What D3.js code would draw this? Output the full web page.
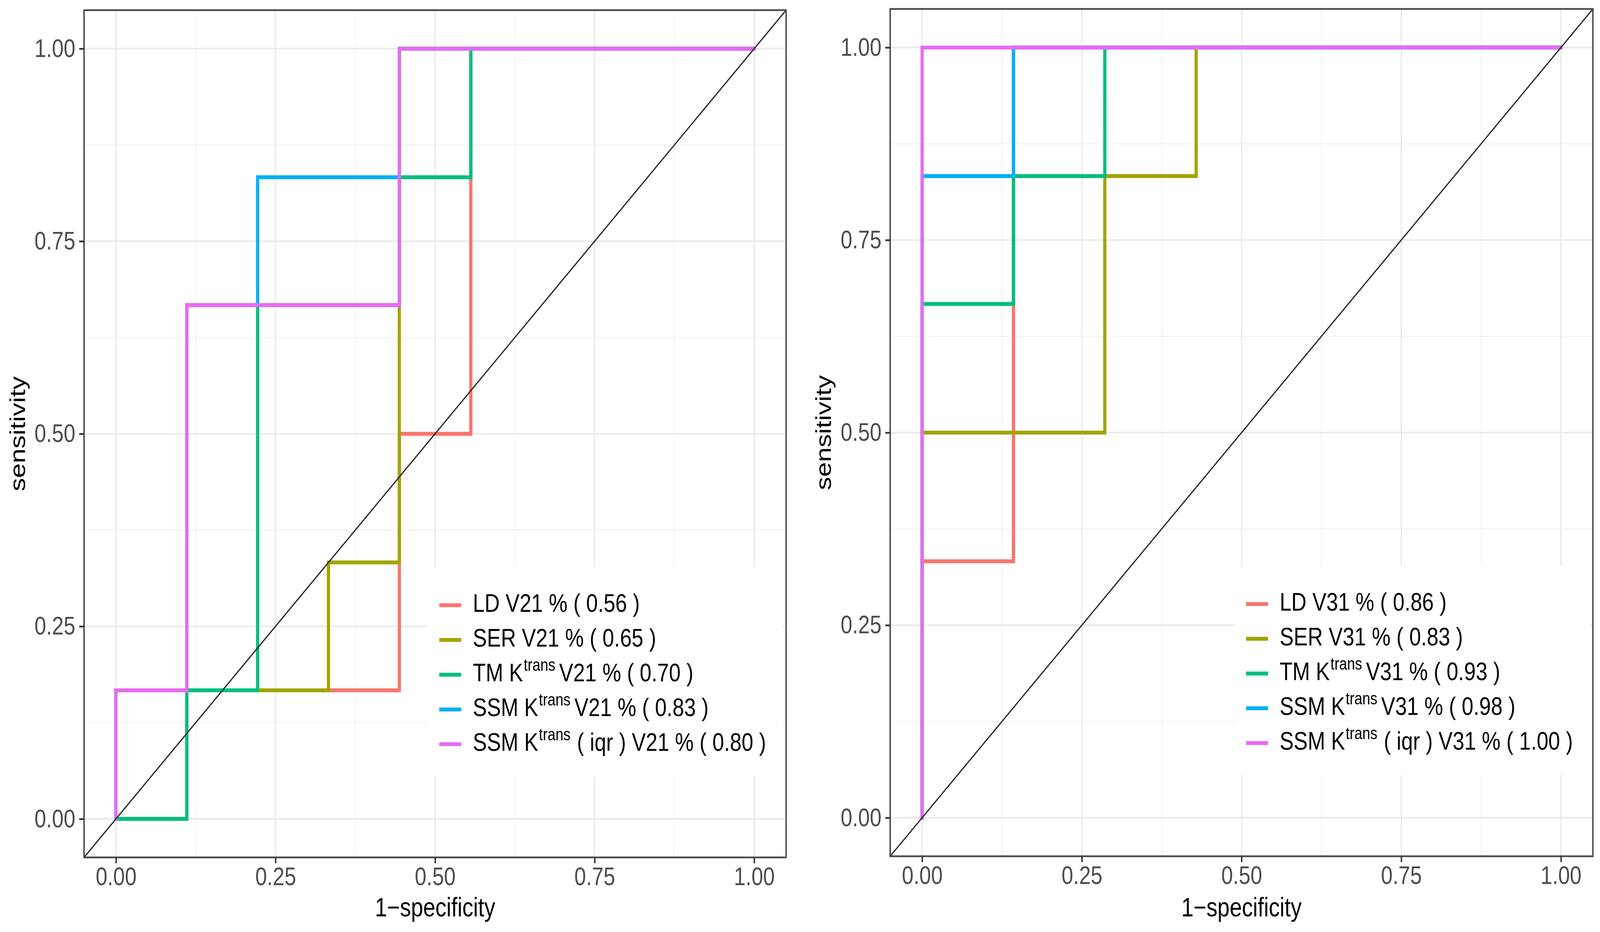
<!DOCTYPE html>
<html>
<head>
<meta charset="utf-8">
<script src="https://cdn.jsdelivr.net/npm/d3@7/dist/d3.min.js"></script>
<style>
html,body{margin:0;padding:0;background:#fff;overflow:hidden;width:100%;height:100%;}
svg{display:block;width:100vw;height:100vh;}
text{font-family:"Liberation Sans",Arial,Helvetica,sans-serif;}
</style>
</head>
<body>
<script>
// ---------------- DATA ----------------
const seriesNames = ["LD", "SER", "TM", "SSM", "SSM"];
const seriesHasK = [false, false, true, true, true];
const seriesHasIqr = [false, false, false, false, true];
const seriesColors = ["#F8766D", "#A3A500", "#00BF7D", "#00B0F6", "#E76BF3"];

const tickValues = [0, 0.25, 0.5, 0.75, 1];
const tickLabels = ["0.00", "0.25", "0.50", "0.75", "1.00"];
const minorTicks = [0.125, 0.375, 0.625, 0.875];

// Left panel (V21)
const leftVar = "V21";
const leftAUC = ["0.56", "0.65", "0.70", "0.83", "0.80"];
const leftLD_x  = [0, 0.111, 0.111, 0.444, 0.444, 0.556, 0.556, 1];
const leftLD_y  = [0, 0, 0.167, 0.167, 0.5, 0.5, 1, 1];
const leftSER_x = [0, 0, 0.333, 0.333, 0.444, 0.444, 1];
const leftSER_y = [0, 0.167, 0.167, 0.333, 0.333, 1, 1];
const leftTM_x  = [0, 0.111, 0.111, 0.222, 0.222, 0.444, 0.444, 0.556, 0.556, 1];
const leftTM_y  = [0, 0, 0.167, 0.167, 0.667, 0.667, 0.833, 0.833, 1, 1];
const leftSSM_x = [0, 0, 0.111, 0.111, 0.222, 0.222, 0.444, 0.444, 1];
const leftSSM_y = [0, 0.167, 0.167, 0.667, 0.667, 0.833, 0.833, 1, 1];
const leftIQR_x = [0, 0, 0.111, 0.111, 0.444, 0.444, 1];
const leftIQR_y = [0, 0.167, 0.167, 0.667, 0.667, 1, 1];

// Right panel (V31)
const rightVar = "V31";
const rightAUC = ["0.86", "0.83", "0.93", "0.98", "1.00"];
const rightLD_x  = [0, 0, 0.143, 0.143, 1];
const rightLD_y  = [0, 0.333, 0.333, 1, 1];
const rightSER_x = [0, 0, 0.286, 0.286, 0.429, 0.429, 1];
const rightSER_y = [0, 0.5, 0.5, 0.833, 0.833, 1, 1];
const rightTM_x  = [0, 0, 0.143, 0.143, 0.286, 0.286, 1];
const rightTM_y  = [0, 0.667, 0.667, 0.833, 0.833, 1, 1];
const rightSSM_x = [0, 0, 0.143, 0.143, 1];
const rightSSM_y = [0, 0.833, 0.833, 1, 1];
const rightIQR_x = [0, 0, 1];
const rightIQR_y = [0, 1, 1];

// ---------------- LAYOUT ----------------
const W = 4950, H = 2387;
const svg = d3.select("body").append("svg")
  .attr("viewBox", `0 0 ${W} ${H}`).attr("preserveAspectRatio", "none");
svg.append("rect").attr("width", W).attr("height", H).attr("fill", "#fff");

const FONT_TICK = 65, FONT_TITLE = 68, FONT_LEG = 65, FONT_SUP = 44;

const panels = [
  { left: 260, right: 2432, top: 26, bottom: 2196, auc: leftAUC, v: leftVar,
    xs: [leftLD_x, leftSER_x, leftTM_x, leftSSM_x, leftIQR_x],
    ys: [leftLD_y, leftSER_y, leftTM_y, leftSSM_y, leftIQR_y] },
  { left: 2754, right: 4928, top: 23, bottom: 2193, auc: rightAUC, v: rightVar,
    xs: [rightLD_x, rightSER_x, rightTM_x, rightSSM_x, rightIQR_x],
    ys: [rightLD_y, rightSER_y, rightTM_y, rightSSM_y, rightIQR_y] }
];

panels.forEach((p, pi) => {
  const x = d3.scaleLinear().domain([-0.05, 1.05]).range([p.left, p.right]);
  const y = d3.scaleLinear().domain([-0.05, 1.05]).range([p.bottom, p.top]);
  const g = svg.append("g");
  const clipId = "clip" + pi;
  svg.append("clipPath").attr("id", clipId).append("rect")
    .attr("x", p.left).attr("y", p.top).attr("width", p.right - p.left).attr("height", p.bottom - p.top);

  const grid = g.append("g").attr("clip-path", `url(#${clipId})`);
  // minor grid
  minorTicks.forEach(t => {
    grid.append("line").attr("x1", x(t)).attr("x2", x(t)).attr("y1", p.top).attr("y2", p.bottom)
      .attr("stroke", "#F2F2F2").attr("stroke-width", 2.5);
    grid.append("line").attr("y1", y(t)).attr("y2", y(t)).attr("x1", p.left).attr("x2", p.right)
      .attr("stroke", "#F2F2F2").attr("stroke-width", 2.5);
  });
  tickValues.forEach(t => {
    grid.append("line").attr("x1", x(t)).attr("x2", x(t)).attr("y1", p.top).attr("y2", p.bottom)
      .attr("stroke", "#EBEBEB").attr("stroke-width", 4.5);
    grid.append("line").attr("y1", y(t)).attr("y2", y(t)).attr("x1", p.left).attr("x2", p.right)
      .attr("stroke", "#EBEBEB").attr("stroke-width", 4.5);
  });

  // curves
  const line = d3.line().x(d => x(d[0])).y(d => y(d[1]));
  const curves = g.append("g").attr("clip-path", `url(#${clipId})`);
  p.xs.forEach((xa, i) => {
    const pts = xa.map((v, k) => [v, p.ys[i][k]]);
    curves.append("path").attr("d", line(pts)).attr("fill", "none")
      .attr("stroke", seriesColors[i]).attr("stroke-width", 10)
      .attr("stroke-linejoin", "miter").attr("stroke-linecap", "square");
  });
  // diagonal reference line (abline slope 1)
  curves.append("line").attr("x1", x(-0.05)).attr("y1", y(-0.05)).attr("x2", x(1.05)).attr("y2", y(1.05))
    .attr("stroke", "#262626").attr("stroke-width", 3.5);

  // border
  g.append("rect").attr("x", p.left).attr("y", p.top).attr("width", p.right - p.left).attr("height", p.bottom - p.top)
    .attr("fill", "none").attr("stroke", "#4a4a4a").attr("stroke-width", 4.5);

  // axes
  const xAxis = d3.axisBottom(x).tickValues(tickValues).tickFormat((d, i) => tickLabels[i])
    .tickSize(15).tickPadding(10);
  const yAxis = d3.axisLeft(y).tickValues(tickValues).tickFormat((d, i) => tickLabels[i])
    .tickSize(15).tickPadding(12);
  const gx = g.append("g").attr("transform", `translate(0,${p.bottom})`).call(xAxis);
  const gy = g.append("g").attr("transform", `translate(${p.left},0)`).call(yAxis);
  [gx, gy].forEach(ax => {
    ax.select(".domain").remove();
    ax.selectAll(".tick line").attr("stroke", "#333").attr("stroke-width", 4.5);
    ax.selectAll(".tick text").attr("fill", "#4D4D4D").attr("font-size", FONT_TICK)
      .attr("font-family", '"Liberation Sans",Arial,sans-serif');
  });

  // axis titles
  g.append("text").attr("x", (p.left + p.right) / 2).attr("y", 2347)
    .attr("text-anchor", "middle").attr("font-size", FONT_TITLE).attr("fill", "#000")
    .text("1\u2212specificity");
  const cy = (p.top + p.bottom) / 2;
  g.append("text").attr("transform", `translate(${p.left - 183},${cy}) rotate(-90)`)
    .attr("text-anchor", "middle").attr("font-size", FONT_TITLE).attr("fill", "#000")
    .text("sensitivity");

  // legend
  const lgLeft = p.right - 1110, lgTop = p.top + 1427;
  const lg = g.append("g");
  lg.append("rect").attr("x", lgLeft).attr("y", lgTop).attr("width", 1100).attr("height", 535)
    .attr("fill", "#fff");
  seriesNames.forEach((nm, i) => {
    const ky = lgTop + 97 + i * 89;
    lg.append("line").attr("x1", lgLeft + 37).attr("x2", lgLeft + 105).attr("y1", ky).attr("y2", ky)
      .attr("stroke", seriesColors[i]).attr("stroke-width", 10);
    const t = lg.append("text").attr("x", lgLeft + 141).attr("y", ky + 17)
      .attr("font-size", FONT_LEG).attr("fill", "#000");
    if (seriesHasK[i]) {
      t.append("tspan").text(nm + " K");
      t.append("tspan").attr("font-size", FONT_SUP).attr("dy", -27).attr("dx", 2).text("trans");
      const rest = (seriesHasIqr[i] ? " ( iqr ) " : "") + p.v + " % ( " + p.auc[i] + " )";
      t.append("tspan").attr("dy", 27).attr("dx", seriesHasIqr[i] ? 2 : 12).text(rest);
    } else {
      t.text(nm + " " + p.v + " % ( " + p.auc[i] + " )");
    }
  });
});
</script>
</body>
</html>
